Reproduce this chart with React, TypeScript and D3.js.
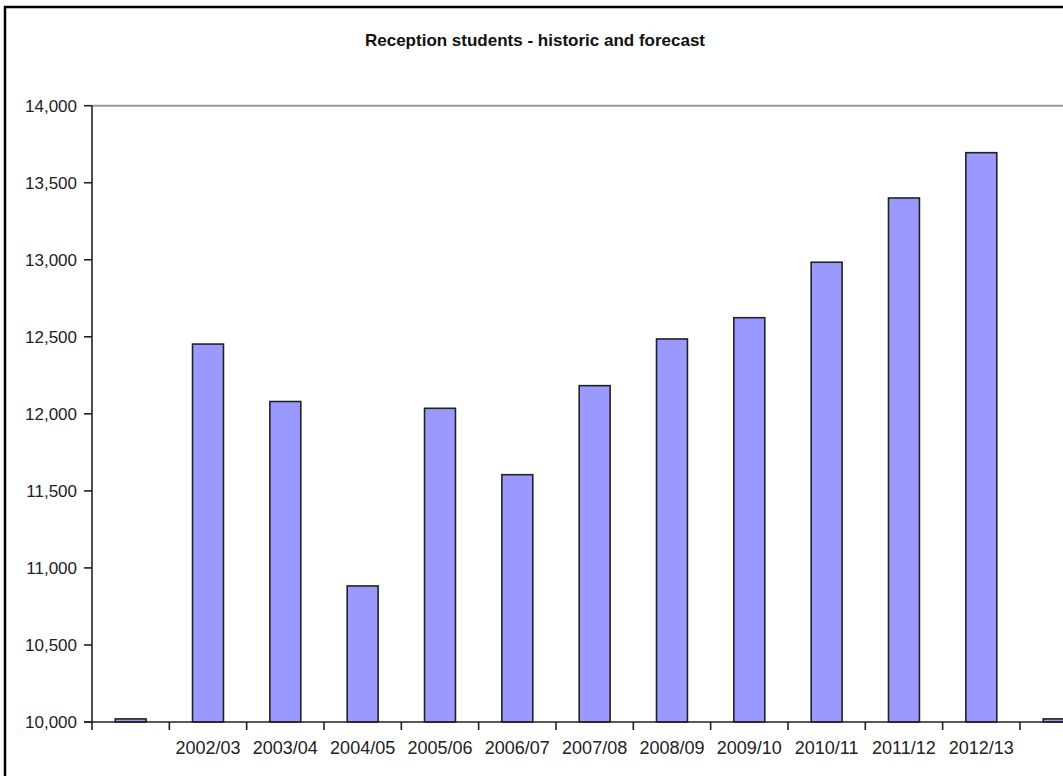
import React from "react";
import * as d3 from "d3";

const title = "Reception students - historic and forecast";
const categories = ["", "2002/03", "2003/04", "2004/05", "2005/06", "2006/07", "2007/08", "2008/09", "2009/10", "2010/11", "2011/12", "2012/13", ""];
const values = [10020, 12453, 12080, 10883, 12036, 11605, 12183, 12486, 12624, 12984, 13401, 13695, 10020];
const yTicks = [10000, 10500, 11000, 11500, 12000, 12500, 13000, 13500, 14000];

const W = 1063;
const H = 776;
const axisX = 92;
const step = 77.33;
const yTop = 105.7;
const yBottom = 722;

export default function App() {
  const idx = categories.map((_, i) => String(i));
  const x = d3.scaleBand<string>().domain(idx).range([axisX, axisX + step * categories.length]).padding(0);
  const y = d3.scaleLinear().domain([10000, 14000]).range([yBottom, yTop]);
  const bw = x.bandwidth() * 0.4;
  const fmt = d3.format(",");
  const font = "'Liberation Sans', Arial, sans-serif";

  return (
    <svg width={W} height={H} style={{ position: "absolute", left: 0, top: 0, background: "#fff" }}>
      {/* outer frame */}
      <line x1={5} x2={5} y1={6} y2={H} stroke="#000" strokeWidth={2.5} />
      <line x1={4} x2={W} y1={7} y2={7} stroke="#000" strokeWidth={2.5} />

      <text x={535} y={46} textAnchor="middle" fontFamily={font} fontWeight="bold" fontSize={17} fill="#111">
        {title}
      </text>

      {/* top gridline */}
      <line x1={axisX} x2={W} y1={y(14000)} y2={y(14000)} stroke="#999" strokeWidth={2} />

      {/* bars */}
      {values.map((v, i) => (
        <rect
          key={i}
          x={(x(String(i)) as number) + (x.bandwidth() - bw) / 2}
          y={y(v)}
          width={bw}
          height={y(10000) - y(v)}
          fill="#9999ff"
          stroke="#222"
          strokeWidth={1.6}
        />
      ))}

      {/* y axis */}
      <line x1={axisX} x2={axisX} y1={y(14000)} y2={y(10000) + 8} stroke="#222" strokeWidth={1.6} />
      {yTicks.map((t) => (
        <g key={t}>
          <line x1={axisX - 8} x2={axisX} y1={y(t)} y2={y(t)} stroke="#222" strokeWidth={1.6} />
          <text x={77} y={y(t)} dy="0.36em" textAnchor="end" fontFamily={font} fontSize={17} fill="#222">
            {fmt(t)}
          </text>
        </g>
      ))}

      {/* x axis */}
      <line x1={axisX - 8} x2={W} y1={y(10000)} y2={y(10000)} stroke="#222" strokeWidth={1.6} />
      {idx.slice(1).map((k) => (
        <line key={k} x1={x(k) as number} x2={x(k) as number} y1={y(10000)} y2={y(10000) + 8} stroke="#222" strokeWidth={1.6} />
      ))}
      {categories.map((c, i) =>
        c ? (
          <text key={i} x={(x(String(i)) as number) + x.bandwidth() / 2} y={754} textAnchor="middle" fontFamily={font} fontSize={18} fill="#222">
            {c}
          </text>
        ) : null
      )}
    </svg>
  );
}
